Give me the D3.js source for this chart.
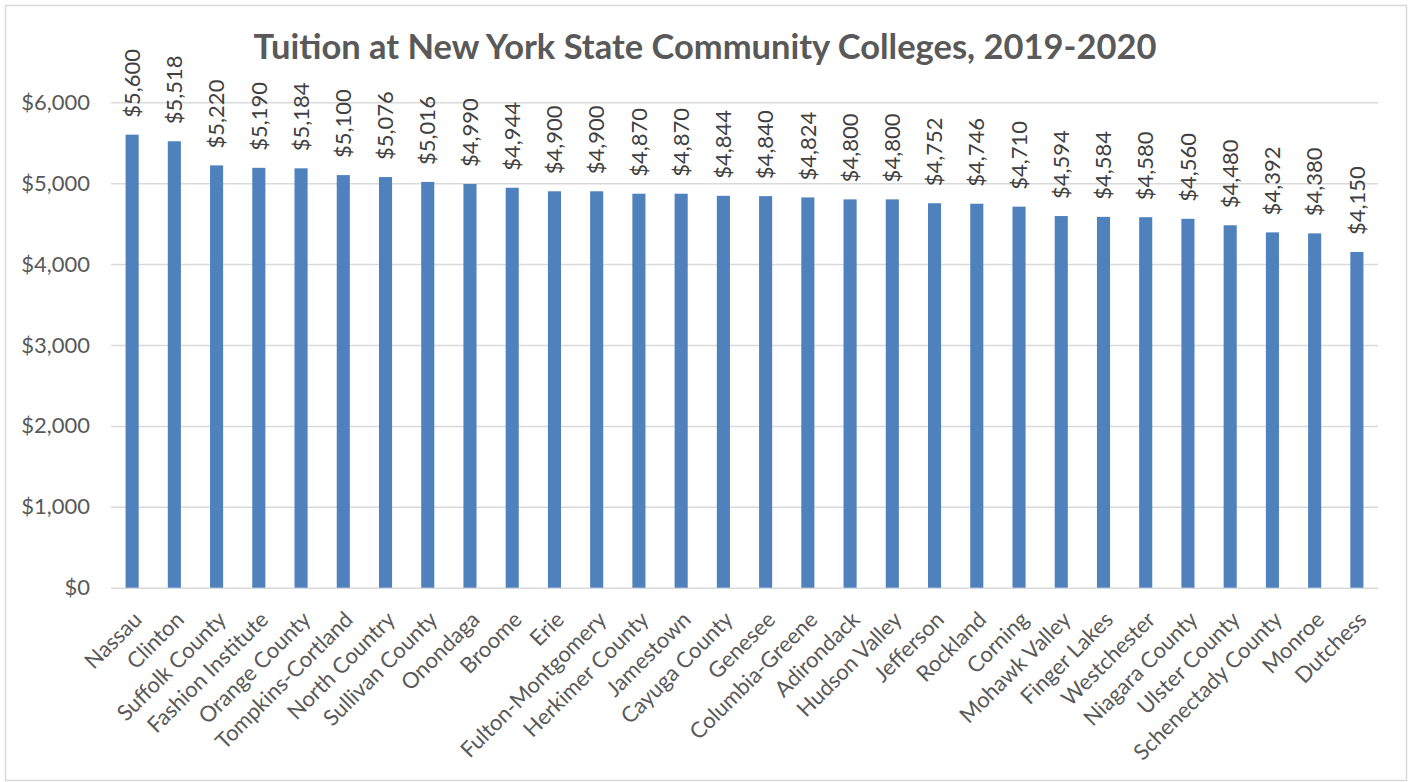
<!DOCTYPE html>
<html>
<head>
<meta charset="utf-8">
<script src="https://cdn.jsdelivr.net/npm/d3@7"></script>
<style>
  body { margin: 0; background: #fff; }
  svg { display: block; }
  text { font-family: Lato, "Open Sans", sans-serif; }
</style>
</head>
<body>
<div id="chart"></div>
<script>
// Chart data
const colleges = [
    "Nassau", "Clinton", "Suffolk County", "Fashion Institute", "Orange County",
    "Tompkins-Cortland", "North Country", "Sullivan County", "Onondaga", "Broome",
    "Erie", "Fulton-Montgomery", "Herkimer County", "Jamestown", "Cayuga County",
    "Genesee", "Columbia-Greene", "Adirondack", "Hudson Valley", "Jefferson",
    "Rockland", "Corning", "Mohawk Valley", "Finger Lakes", "Westchester",
    "Niagara County", "Ulster County", "Schenectady County", "Monroe", "Dutchess"
];
const tuition = [
    5600, 5518, 5220, 5190, 5184,
    5100, 5076, 5016, 4990, 4944,
    4900, 4900, 4870, 4870, 4844,
    4840, 4824, 4800, 4800, 4752,
    4746, 4710, 4594, 4584, 4580,
    4560, 4480, 4392, 4380, 4150
];
const yTicks = [0, 1000, 2000, 3000, 4000, 5000, 6000];
const chartTitle = "Tuition at New York State Community Colleges, 2019-2020";

const W = 1414, H = 782;
const plot = { left: 111, right: 1378, top: 102.3, bottom: 587.7 };

const fmt = d3.format("$,");

const svg = d3.select("#chart").append("svg")
    .attr("width", W)
    .attr("height", H);

// Outer chart border
svg.append("rect")
    .attr("x", 5.5).attr("y", 5.5)
    .attr("width", 1401).attr("height", 775)
    .attr("fill", "#fff")
    .attr("stroke", "#d9d9d9")
    .attr("stroke-width", 1.5);

// Scales
const x = d3.scaleBand()
    .domain(colleges)
    .range([plot.left, plot.right])
    .paddingInner(0.69)
    .paddingOuter(0.345);

const y = d3.scaleLinear()
    .domain([0, 6000])
    .range([plot.bottom, plot.top]);

// Gridlines + y labels
const yAxis = d3.axisLeft(y)
    .tickValues(yTicks)
    .tickFormat(fmt)
    .tickSize(-(plot.right - plot.left))
    .tickPadding(21);

svg.append("g")
    .attr("transform", `translate(${plot.left},0)`)
    .call(yAxis)
    .call(g => g.select(".domain").remove())
    .call(g => g.selectAll(".tick line").attr("stroke", "#d9d9d9").attr("stroke-width", 1.5))
    .call(g => g.selectAll(".tick text")
        .attr("fill", "#595959")
        .style("font-size", "22px")
        .style("font-family", "Lato, sans-serif"));

// Bars
svg.append("g")
    .selectAll("rect")
    .data(tuition)
    .join("rect")
    .attr("x", (d, i) => x(colleges[i]))
    .attr("y", d => y(d))
    .attr("width", x.bandwidth())
    .attr("height", d => y(0) - y(d))
    .attr("fill", "#4f81bd");

// Value labels (rotated)
svg.append("g")
    .selectAll("text")
    .data(tuition)
    .join("text")
    .attr("transform", (d, i) => `translate(${x(colleges[i]) + x.bandwidth() / 2},${y(d) - 17}) rotate(-90)`)
    .attr("dy", "0.35em")
    .attr("fill", "#404040")
    .style("font-size", "22px")
    .text(d => fmt(d));

// Category labels (rotated -45)
svg.append("g")
    .selectAll("text")
    .data(colleges)
    .join("text")
    .attr("transform", d => `translate(${x(d) + x.bandwidth() / 2 + 11},${621}) rotate(-45)`)
    .attr("text-anchor", "end")
    .attr("fill", "#595959")
    .style("font-size", "22px")
    .text(d => d);

// Title
svg.append("text")
    .attr("x", 705)
    .attr("y", 59)
    .attr("text-anchor", "middle")
    .attr("fill", "#595959")
    .style("font-size", "34.5px")
    .style("font-weight", "bold")
    .text(chartTitle);
</script>
</body>
</html>
